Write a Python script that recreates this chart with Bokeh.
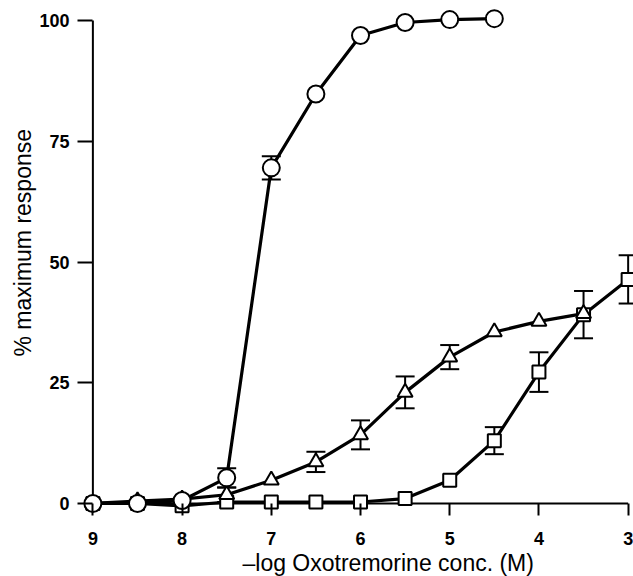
from bokeh.plotting import figure
from bokeh.models import Range1d, FixedTicker, Title
from bokeh.embed import file_html
from bokeh.resources import INLINE

# ---- data ----
circ_x = [9, 8.5, 8, 7.5, 7, 6.5, 6, 5.5, 5, 4.5]
circ_y = [0, 0, 0.6, 5.3, 69.5, 84.8, 96.9, 99.6, 100.2, 100.4]
circ_e = [0, 0, 0, 2.0, 2.4, 0, 0, 0, 0, 0]

tri_x = [9, 8.5, 8, 7.5, 7, 6.5, 6, 5.5, 5, 4.5, 4, 3.5]
tri_y = [0, 0.5, 0.9, 1.8, 4.8, 8.6, 14.2, 23.0, 30.3, 35.5, 37.7, 39.3]
tri_e = [0, 0, 0, 1.5, 0, 2.1, 3.0, 3.3, 2.5, 0, 0, 0]

sq_x = [9, 8.5, 8, 7.5, 7, 6.5, 6, 5.5, 5, 4.5, 4, 3.5, 3]
sq_y = [0, 0, -0.5, 0.3, 0.3, 0.3, 0.3, 1.0, 4.8, 13.0, 27.2, 39.1, 46.4]
sq_e = [0, 0, 0, 0, 0, 0, 0, 0, 0, 2.8, 4.1, 4.9, 5.0]

x_ticks = [9, 8, 7, 6, 5, 4, 3]
y_ticks = [0, 25, 50, 75, 100]
x_axis_span = (9, 3)
y_axis_span = (0, 100)

x_title = "\u2013log Oxotremorine conc. (M)"
y_title = "% maximum response"

FONT = "Liberation Sans"

p = figure(width=633, height=576, output_backend="svg", toolbar_location=None,
           x_range=Range1d(9.15, 2.94), y_range=Range1d(-2.5, 102.5),
           min_border_left=79, min_border_right=0, min_border_top=8,
           min_border_bottom=61)
p.outline_line_color = None
p.xgrid.grid_line_color = None
p.ygrid.grid_line_color = None
p.background_fill_color = "white"

for ax, ticks in ((p.xaxis[0], x_ticks), (p.yaxis[0], y_ticks)):
    ax.ticker = FixedTicker(ticks=ticks)
    ax.axis_line_color = None
    ax.minor_tick_line_color = None
    ax.major_tick_line_color = "black"
    ax.major_tick_line_width = 2
    ax.major_label_text_font = FONT
    ax.major_label_text_font_style = "bold"
    ax.major_label_text_font_size = "18px"
    ax.major_label_text_color = "black"

p.xaxis.major_tick_in = 12
p.xaxis.major_tick_out = 0
p.xaxis.major_label_standoff = 16
p.yaxis.major_tick_in = 13
p.yaxis.major_tick_out = 2
p.yaxis.major_label_standoff = 8

p.add_layout(Title(text=x_title, align="left", offset=163, text_font=FONT,
                   text_font_size="23px", text_font_style="normal",
                   text_color="black", standoff=0), "below")
p.add_layout(Title(text=y_title, align="left", offset=159, text_font=FONT,
                   text_font_size="23px", text_font_style="normal",
                   text_color="black", standoff=2), "left")

# axis lines meeting at the origin
p.segment(x0=[x_axis_span[0], x_axis_span[0]], y0=[y_axis_span[0], y_axis_span[0]],
          x1=[x_axis_span[1], x_axis_span[0]], y1=[y_axis_span[0], y_axis_span[1]],
          line_color="black", line_width=2)


def errbars(xs, ys, es):
    xx = [x for x, e in zip(xs, es) if e > 0]
    lo = [y - e for y, e in zip(ys, es) if e > 0]
    hi = [y + e for y, e in zip(ys, es) if e > 0]
    p.segment(x0=xx, y0=lo, x1=xx, y1=hi, line_color="black", line_width=2)
    p.scatter(xx, lo, marker="dash", size=19, line_color="black", line_width=2)
    p.scatter(xx, hi, marker="dash", size=19, line_color="black", line_width=2)


series = [
    (sq_x, sq_y, sq_e, "square", 13),
    (tri_x, tri_y, tri_e, "triangle", 15),
    (circ_x, circ_y, circ_e, "circle", 17),
]

for xs, ys, es, mk, sz in series:
    errbars(xs, ys, es)
for xs, ys, es, mk, sz in series:
    p.line(xs, ys, line_color="black", line_width=3.2)
for xs, ys, es, mk, sz in series:
    p.scatter(xs, ys, marker=mk, size=sz, fill_color="white",
              line_color="black", line_width=2)

open("out.html", "w").write(file_html(p, INLINE))
